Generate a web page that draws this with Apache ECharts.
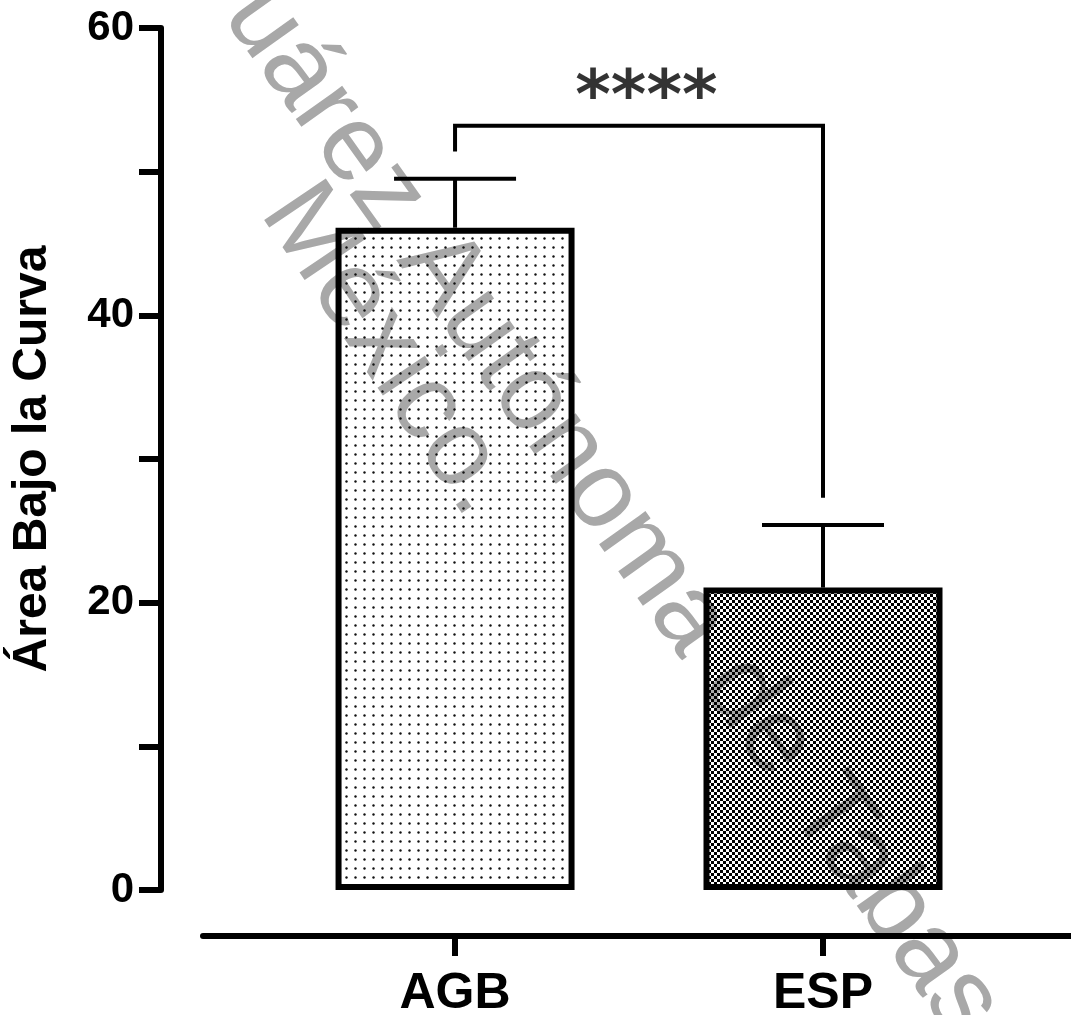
<!DOCTYPE html>
<html><head><meta charset="utf-8">
<script src="https://cdn.jsdelivr.net/npm/echarts@6/dist/echarts.min.js"></script>
<style>html,body{margin:0;padding:0;background:#fff}#c{width:1071px;height:1015px}</style>
</head><body><div id="c"></div>
<script>
// ---- data ----
const categories = ['AGB', 'ESP'];
const means = [46.1, 21.05];
const errTop = [49.5, 25.4];
const yMin = 0, yMax = 60, yStep = 20;
const sigText = '****';
const bracketX = [0, 0, 1, 1];
const bracketY = [51.4, 53.2, 53.2, 27.3];
const sigPos = [0.52, 55.0];
const yTitle = 'Área Bajo la Curva';
const watermark1 = 'uárez Autónoma de Tabasco';
const watermark2 = 'México.';

const FONT = '"Liberation Sans", Arial, Helvetica, sans-serif';

function dotPattern() {
  const c = document.createElement('canvas');
  c.width = 9; c.height = 9;
  const ctx = c.getContext('2d');
  ctx.fillStyle = '#111';
  ctx.beginPath(); ctx.arc(4.5, 4.5, 1.2, 0, Math.PI * 2); ctx.fill();
  return c;
}
function checkerPattern() {
  const c = document.createElement('canvas');
  c.width = 6; c.height = 6;
  const ctx = c.getContext('2d');
  ctx.fillStyle = '#000';
  ctx.fillRect(0, 0, 3, 3);
  ctx.fillRect(3, 3, 3, 3);
  return c;
}
const patterns = [
  { image: dotPattern(), repeat: 'repeat' },
  { image: checkerPattern(), repeat: 'repeat' }
];

const chart = echarts.init(document.getElementById('c'), null, { renderer: 'canvas' });
const xIdx = categories.map((_, i) => i);
const rad = d => -d * Math.PI / 180;

const option = {
  animation: false,
  backgroundColor: '#fff',
  grid: { left: 203, right: 0, top: 28, bottom: 125, containLabel: false, outerBoundsMode: 'none' },
  xAxis: {
    type: 'value', min: -0.685, max: 1.674,
    offset: 46,
    axisLine: { show: true, onZero: false, lineStyle: { color: '#000', width: 6 } },
    axisTick: { show: true, length: 20, customValues: xIdx, lineStyle: { color: '#000', width: 6 } },
    axisLabel: {
      show: true, customValues: xIdx, margin: 33,
      formatter: v => categories[Math.round(v)] || '',
      color: '#000', fontSize: 50, fontWeight: 'bold', fontFamily: FONT
    },
    splitLine: { show: false }
  },
  yAxis: {
    type: 'value', min: yMin, max: yMax, interval: yStep,
    offset: 42,
    name: yTitle, nameLocation: 'middle', nameGap: 104, nameRotate: 90,
    nameTextStyle: { color: '#000', fontSize: 48, fontWeight: 'bold', fontFamily: FONT },
    axisLine: { show: true, onZero: false, lineStyle: { color: '#000', width: 6 } },
    axisTick: { show: true, length: 22, lineStyle: { color: '#000', width: 6 } },
    minorTick: { show: true, splitNumber: 2, length: 22, lineStyle: { color: '#000', width: 6 } },
    axisLabel: { margin: 27, color: '#000', fontSize: 42, fontWeight: 'bold', fontFamily: FONT },
    splitLine: { show: false }
  },
  graphic: [
    {
      type: 'text', x: 246, y: -2, rotation: rad(54.5), z: 0,
      style: { text: watermark1, font: '108px ' + FONT, fill: '#a8a8a8', verticalAlign: 'middle', align: 'left' }
    },
    {
      type: 'text', x: 284, y: 196, rotation: rad(56), z: 0,
      style: { text: watermark2, font: '108px ' + FONT, fill: '#a8a8a8', verticalAlign: 'middle', align: 'left' }
    }
  ],
  series: [
    {
      type: 'bar', barWidth: 239, z: 3,
      data: means.map((v, i) => ({
        value: [i, v],
        itemStyle: { color: patterns[i], borderColor: '#000', borderWidth: 6 }
      }))
    },
    {
      type: 'custom', z: 2,
      data: means.map((v, i) => [i, v, errTop[i]]),
      renderItem: function (params, api) {
        const base = api.coord([api.value(0), api.value(1)]);
        const top = api.coord([api.value(0), api.value(2)]);
        const half = 61;
        const st = { stroke: '#000', lineWidth: 4 };
        return {
          type: 'group',
          children: [
            { type: 'line', shape: { x1: top[0], y1: base[1], x2: top[0], y2: top[1] }, style: st },
            { type: 'line', shape: { x1: top[0] - half, y1: top[1], x2: top[0] + half, y2: top[1] }, style: st }
          ]
        };
      }
    },
    {
      type: 'line', symbol: 'none', z: 4,
      lineStyle: { color: '#000', width: 4, join: 'miter', cap: 'butt' },
      data: bracketX.map((x, i) => [x, bracketY[i]])
    },
    {
      type: 'scatter', symbolSize: 1, itemStyle: { color: 'rgba(0,0,0,0)' }, z: 5,
      data: [sigPos],
      label: {
        show: true, position: 'inside', formatter: sigText,
        color: '#000', fontSize: 68, fontWeight: 'bold', fontFamily: '"DejaVu Sans", sans-serif'
      }
    }
  ]
};
chart.setOption(option);
</script>
</body></html>
